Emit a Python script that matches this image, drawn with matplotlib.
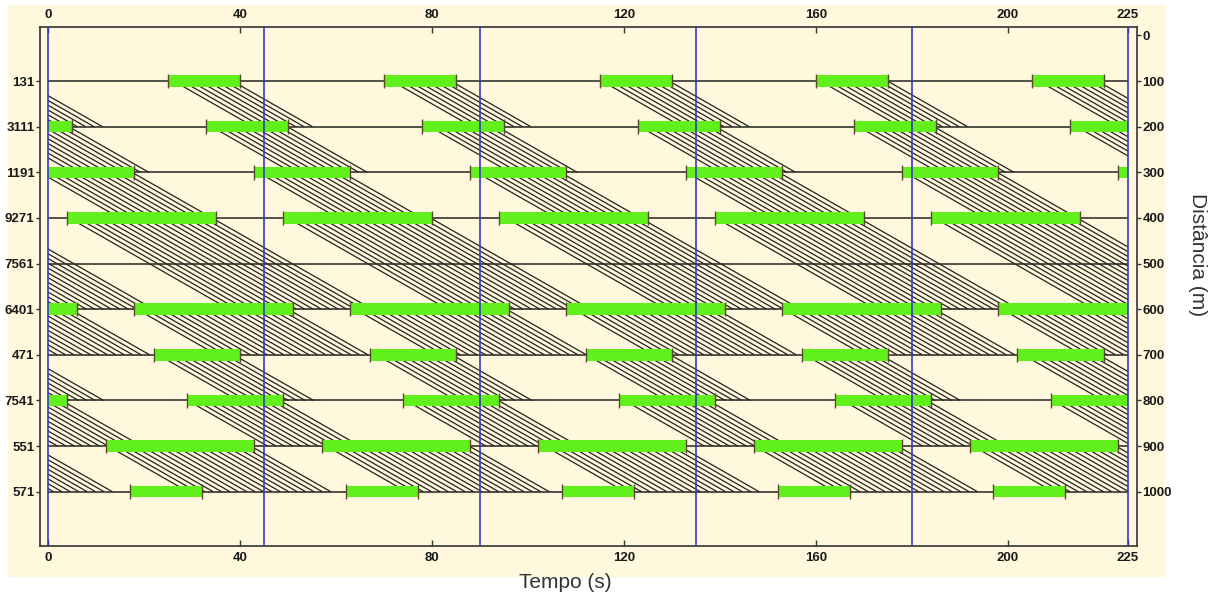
import numpy as np
import matplotlib
matplotlib.use("Agg")
import matplotlib.pyplot as plt
from matplotlib.patches import Rectangle
from matplotlib.collections import LineCollection

# ---------------- data ----------------
names = ['131', '3111', '1191', '9271', '7561', '6401', '471', '7541', '551', '571']
dist = [100, 200, 300, 400, 500, 600, 700, 800, 900, 1000]
green_start = [25, 33, 43, 4, 0, 18, 22, 29, 12, 17]      # s (offset in cycle)
green_dur = [15, 17, 20, 31, 0, 33, 18, 20, 31, 15]       # s
signalized = [True, True, True, True, False, True, True, True, True, True]
cycle = 45
speed = 6.0          # m/s of the platoon trajectories
traj_step = 1.75     # s between drawn trajectories
t_ticks = [0, 40, 80, 120, 160, 200, 225]
d_ticks = [0, 100, 200, 300, 400, 500, 600, 700, 800, 900, 1000]
cycle_lines = [0, 45, 90, 135, 180, 225]
t_max = 225

# ---------------- figure ----------------
W, H = 1223, 596
fig = plt.figure(figsize=(W / 100, H / 100), dpi=100, facecolor='white')
cream = '#FFF8DC'
fig.patches.append(Rectangle((8 / W, 1 - 577 / H), (1165 - 8) / W, (577 - 5) / H,
                             transform=fig.transFigure, facecolor=cream,
                             edgecolor='none', zorder=-10))

ax = fig.add_axes([40 / W, 1 - 546 / H, (1137 - 40) / W, (546 - 27) / H])
ax.set_facecolor(cream)
ax.set_xlim(-1.67, 226.9)
ax.set_ylim(1119, -18.4)

lab_font = dict(family=['Liberation Sans', 'DejaVu Sans'], weight='bold', size=9.5,
                color='#1a1a1a')

# trajectories (hatch)
segs = []
for c in np.arange(-400, 300, traj_step):
    active = False
    for i in range(len(dist) - 1):
        t_i = c + dist[i] / speed
        if signalized[i]:
            active = ((t_i - green_start[i]) % cycle) < green_dur[i]
        if active:
            t_j = c + dist[i + 1] / speed
            segs.append([(t_i, dist[i]), (t_j, dist[i + 1])])
lc = LineCollection(segs, colors='#222222', linewidths=0.9, zorder=2)
ax.add_collection(lc)
clip = Rectangle((0, -20), t_max, 1200, transform=ax.transData)
lc.set_clip_path(clip)

# intersection rows
ax.hlines(dist, 0, t_max, colors='#222222', linewidth=1.1, zorder=3)

# green bars
bar_h = 25
for i, d in enumerate(dist):
    if not signalized[i]:
        continue
    for k in range(-2, 7):
        s = green_start[i] + k * cycle
        e = s + green_dur[i]
        if e <= 0 or s >= t_max:
            continue
        s0, e0 = max(s, 0), min(e, t_max)
        ax.barh(d, e0 - s0, left=s0, height=bar_h, color='#62F01C',
                edgecolor='none', zorder=4)
        if s >= 0:
            ax.vlines(s, d - 16, d + 16, colors='#5a4a2a', linewidth=1.0, zorder=5)
        if e <= t_max:
            ax.vlines(e, d - 16, d + 16, colors='#5a4a2a', linewidth=1.0, zorder=5)

# cycle lines
ax.vlines(cycle_lines, -18.4, 1119, colors='#3838C8', linewidth=1.2, zorder=6)

# axes styling
for sp in ax.spines.values():
    sp.set_color('#333333')
    sp.set_linewidth(1.2)
ax.set_xticks(t_ticks)
ax.set_xticklabels([str(t) for t in t_ticks], fontdict=lab_font)
ax.tick_params(axis='x', top=True, labeltop=True, bottom=True, labelbottom=True,
               direction='in', length=4, width=1, color='#333333', pad=4)
ax.set_yticks(dist)
ax.set_yticklabels(names, fontdict=lab_font)
ax.tick_params(axis='y', direction='out', length=3, width=1, color='#333333', pad=1)

ax2 = ax.twinx()
ax2.set_ylim(ax.get_ylim())
ax2.set_yticks(d_ticks)
ax2.set_yticklabels([str(d) for d in d_ticks], fontdict=lab_font)
ax2.tick_params(axis='y', direction='out', length=3, width=1, color='#333333', pad=1)
for sp in ax2.spines.values():
    sp.set_visible(False)

lab2 = dict(family=['Liberation Sans', 'DejaVu Sans'], size=15, color='#333333')
fig.text(565 / W, 1 - 582 / H, 'Tempo (s)', ha='center', va='center', **lab2)
fig.text(1197 / W, 1 - 255 / H, 'Distância (m)', ha='center', va='center',
         rotation=270, **lab2)

fig.savefig('out.png', dpi=100, facecolor='white')
